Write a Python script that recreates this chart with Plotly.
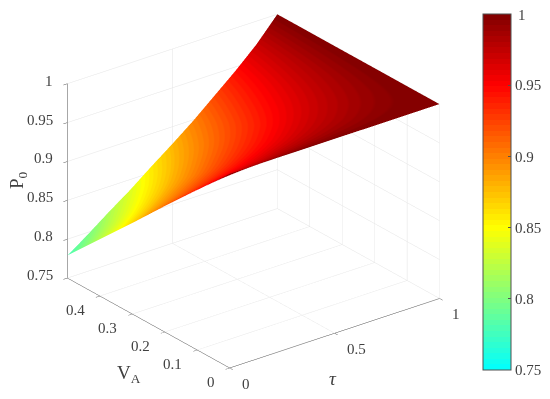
import plotly.graph_objects as go

# values
tau = [0, 0.1, 0.2, 0.3, 0.4, 0.5, 0.6, 0.7, 0.8, 0.9, 1]
va = [0, 0.1, 0.2, 0.3, 0.4, 0.5]
p0_va00 = [1, 1, 1, 1, 1, 1, 1, 1, 1, 1, 1]
p0_va01 = [0.956, 0.960, 0.964, 0.967, 0.972, 0.976, 0.980, 0.984, 0.989, 0.994, 1]
p0_va02 = [0.912, 0.919, 0.927, 0.935, 0.943, 0.951, 0.960, 0.969, 0.978, 0.988, 1]
p0_va03 = [0.867, 0.879, 0.891, 0.902, 0.915, 0.927, 0.939, 0.953, 0.967, 0.982, 1]
p0_va04 = [0.823, 0.838, 0.854, 0.870, 0.886, 0.902, 0.919, 0.938, 0.956, 0.976, 1]
p0_va05 = [0.779, 0.798, 0.818, 0.837, 0.858, 0.878, 0.899, 0.922, 0.945, 0.970, 1]

tau_ticks = [0, 0.5, 1]
tau_labels = ["0", "0.5", "1"]
va_ticks = [0, 0.1, 0.2, 0.3, 0.4, 0.5]
va_labels = ["0", "0.1", "0.2", "0.3", "0.4", ""]
p0_ticks = [0.75, 0.8, 0.85, 0.9, 0.95, 1]
p0_labels = ["0.75", "0.8", "0.85", "0.9", "0.95", "1"]
cbar_labels = ["0.75", "0.8", "0.85", "0.9", "0.95", ""]

cmap_pos = [0, 0.4, 0.8, 1]
cmap_rgb = [(0, 255, 255), (255, 255, 0), (255, 0, 0), (128, 0, 0)]
N_LEVELS = 64

TEXT = "#404040"
SERIF = "Liberation Serif"


# the page body has an 8px margin, so the figure starts at (8, 8) in the window
def px(x):
    return (x - 8) / 550


def py(y):
    return 1 - (y - 8) / 399


def cmap_at(t):
    for i in range(len(cmap_pos) - 1):
        if t <= cmap_pos[i + 1]:
            f = (t - cmap_pos[i]) / (cmap_pos[i + 1] - cmap_pos[i])
            a, b = cmap_rgb[i], cmap_rgb[i + 1]
            return "rgb(%d,%d,%d)" % tuple(round(a[k] + f * (b[k] - a[k])) for k in range(3))
    return "rgb(128,0,0)"


def label(text, x, y, size=19, **kw):
    return dict(text=text, x=px(x), y=py(y), xref="paper", yref="paper",
                xanchor=kw.pop("xanchor", "center"), yanchor="middle", showarrow=False,
                font=dict(family=SERIF, size=size, color=TEXT), **kw)


# tick labels pinned to the 3d axes, native ones can't be placed or sized well
def tick_label(text, x, y, z, anchor, xshift, yshift):
    return dict(text=text, x=x, y=y, z=z, xanchor=anchor, yanchor="middle",
                xshift=xshift, yshift=yshift, showarrow=False,
                font=dict(family=SERIF, size=15, color=TEXT))


# flat bands like the matlab colormap
colorscale = []
for i in range(N_LEVELS):
    c = cmap_at((i + 0.5) / N_LEVELS)
    colorscale.append([i / N_LEVELS, c])
    colorscale.append([(i + 1) / N_LEVELS, c])

axis_common = dict(
    showbackground=False,
    showspikes=False,
    zeroline=False,
    showgrid=True,
    gridcolor="#e4e4e4",
    gridwidth=1,
    showline=True,
    linecolor="#505050",
    linewidth=1,
    ticks="outside",
    ticklen=5,
    tickcolor="#505050",
    showticklabels=False,
    title=dict(text=""),
)

tick_labels = []
for t, s in zip(tau_ticks, tau_labels):
    tick_labels.append(tick_label(s, t, 0, 0.75, "left", 10, -16))
for v, s in zip(va_ticks, va_labels):
    if s:
        tick_labels.append(tick_label(s, 0, v, 0.75, "right", -13, -14))
for p, s in zip(p0_ticks, p0_labels):
    tick_labels.append(tick_label(s, 0, 0.5, p, "right", -12, 3))

fig = go.Figure()

fig.add_trace(go.Surface(
    x=tau, y=va,
    z=[p0_va00, p0_va01, p0_va02, p0_va03, p0_va04, p0_va05],
    cmin=0.75, cmax=1,
    colorscale=colorscale,
    lighting=dict(ambient=1, diffuse=0, specular=0, roughness=1, fresnel=0),
    colorbar=dict(
        x=px(483), xanchor="left", xpad=0,
        y=py(192), yanchor="middle", ypad=0,
        thickness=28, thicknessmode="pixels",
        len=356, lenmode="pixels",
        outlinecolor="#505050", outlinewidth=1,
        ticks="inside", ticklen=3, tickcolor="#505050",
        tickmode="array", tickvals=p0_ticks, ticktext=cbar_labels,
        tickfont=dict(family=SERIF, size=15, color=TEXT),
    ),
))

fig.update_layout(
    width=550, height=399,
    margin=dict(l=0, r=0, t=0, b=0),
    paper_bgcolor="white",
    font=dict(family=SERIF, color=TEXT),
    scene=dict(
        domain=dict(x=[0, 0.8935], y=[0, 1]),
        aspectmode="manual",
        aspectratio=dict(x=1.33, y=1.33, z=1.078),
        camera=dict(
            projection=dict(type="orthographic"),
            center=dict(x=0, y=0, z=-0.091),
            eye=dict(x=-0.787, y=-1.018, z=0.519),
            up=dict(x=0, y=0, z=1),
        ),
        xaxis=dict(range=[0, 1], tickvals=tau_ticks, **axis_common),
        yaxis=dict(range=[0, 0.5], tickvals=va_ticks, **axis_common),
        zaxis=dict(range=[0.75, 1], tickvals=p0_ticks, **axis_common),
        annotations=tick_labels,
    ),
    annotations=[
        label("<i>τ</i>", 333, 378),
        label("V<sub>A</sub>", 129, 374),
        label("P<sub>0</sub>", 18, 180, textangle=-90),
        label("1", 516, 15, size=15, xanchor="left"),
    ],
)

fig.write_html("out.html")
